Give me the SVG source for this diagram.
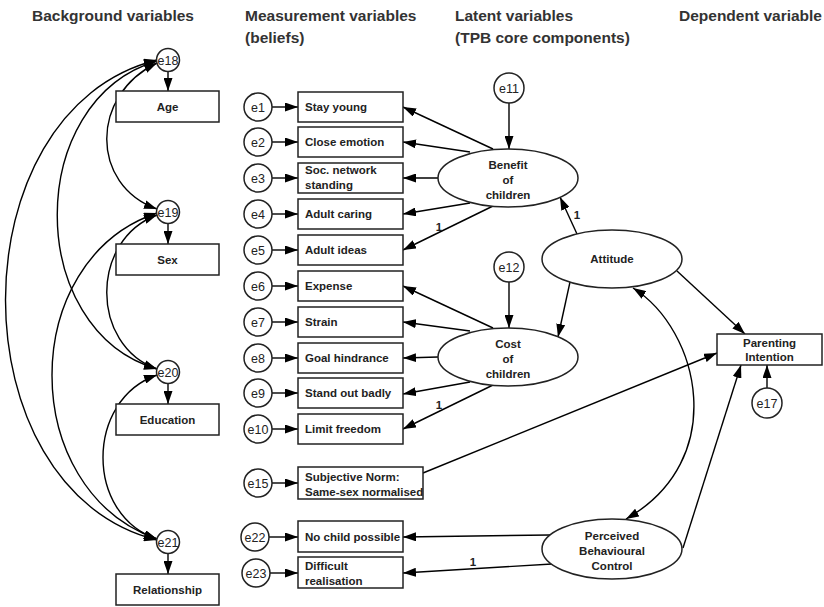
<svg xmlns="http://www.w3.org/2000/svg" width="824" height="607" viewBox="0 0 824 607">
<defs>
<marker id="ah" markerUnits="userSpaceOnUse" markerWidth="14" markerHeight="9" refX="13" refY="4.5" orient="auto-start-reverse">
<path d="M0,0 L13,4.5 L0,9 z" fill="#000"/>
</marker>
<style>
.hdr{font-family:"Liberation Sans",Arial,sans-serif;font-weight:bold;font-size:15.5px;fill:#333}
.lbl{font-family:"Liberation Sans",Arial,sans-serif;font-weight:bold;font-size:11.5px;fill:#222}
.lc{text-anchor:middle}
.err{font-family:"Liberation Sans",Arial,sans-serif;font-size:12.5px;fill:#222;text-anchor:middle}
.one{font-family:"Liberation Sans",Arial,sans-serif;font-weight:bold;font-size:11.5px;fill:#222;text-anchor:middle}
rect,circle,ellipse{fill:#fff;stroke:#222;stroke-width:1.5}
.c line,.c path{stroke:#000;stroke-width:1.4;fill:none;marker-end:url(#ah)}
.c .dbl{marker-start:url(#ah)}
</style>
</defs>
<rect x="0" y="0" width="824" height="607" style="fill:#fff;stroke:none"/>

<g id="headers">
<text class="hdr" x="32" y="21">Background variables</text>
<text class="hdr" x="245" y="21">Measurement variables</text>
<text class="hdr" x="245" y="43">(beliefs)</text>
<text class="hdr" x="455" y="21">Latent variables</text>
<text class="hdr" x="455" y="43">(TPB core components)</text>
<text class="hdr" x="822" y="21" text-anchor="end">Dependent variable</text>
</g>

<g id="connectors" class="c">
<path class="dbl" d="M157,63 C90,95 90,185 157,209"/>
<path class="dbl" d="M157,61 C24,100 24,330 157,369"/>
<path class="dbl" d="M157,60 C-45,110 -45,490 157,540"/>
<path class="dbl" d="M157,215 C90,240 90,345 157,369"/>
<path class="dbl" d="M157,213 C17,260 17,490 157,539"/>
<path class="dbl" d="M157,375 C85,400 85,515 157,539"/>
<line x1="168" y1="71" x2="168" y2="91"/>
<line x1="168" y1="223" x2="168" y2="244"/>
<line x1="168" y1="383" x2="168" y2="404"/>
<line x1="168" y1="553" x2="168" y2="574"/>
<line x1="272" y1="107" x2="298" y2="107"/>
<line x1="272" y1="142" x2="298" y2="142"/>
<line x1="272" y1="178" x2="298" y2="178"/>
<line x1="272" y1="214" x2="298" y2="214"/>
<line x1="272" y1="250" x2="298" y2="250"/>
<line x1="272" y1="286" x2="298" y2="286"/>
<line x1="272" y1="322" x2="298" y2="322"/>
<line x1="272" y1="358" x2="298" y2="358"/>
<line x1="272" y1="393" x2="298" y2="393"/>
<line x1="272" y1="429" x2="298" y2="429"/>
<line x1="272" y1="483" x2="298" y2="483"/>
<line x1="269" y1="537" x2="298" y2="537"/>
<line x1="270" y1="573" x2="298" y2="573"/>
<line x1="509" y1="103" x2="509" y2="149"/>
<line x1="493" y1="149" x2="403" y2="107"/>
<line x1="470" y1="152" x2="403" y2="142"/>
<line x1="438" y1="178" x2="403" y2="178"/>
<line x1="470" y1="203" x2="403" y2="214"/>
<line x1="493" y1="206" x2="403" y2="250"/>
<line x1="509" y1="282" x2="509" y2="328"/>
<line x1="493" y1="328" x2="403" y2="286"/>
<line x1="470" y1="331" x2="403" y2="322"/>
<line x1="438" y1="357" x2="403" y2="358"/>
<line x1="470" y1="382" x2="403" y2="394"/>
<line x1="493" y1="385" x2="403" y2="429"/>
<line x1="577" y1="234" x2="560" y2="197"/>
<line x1="570" y1="282" x2="558" y2="337"/>
<line x1="677" y1="271" x2="745" y2="334"/>
<line x1="423" y1="473" x2="717" y2="353"/>
<line x1="550" y1="535" x2="403" y2="537"/>
<line x1="552" y1="564" x2="403" y2="573"/>
<line x1="683" y1="548" x2="741" y2="365"/>
<path class="dbl" d="M633,288 C700,330 730,460 626,519"/>
<line x1="767" y1="388" x2="767" y2="365"/>
</g>

<g id="one-labels">
<text class="one" x="439" y="231">1</text>
<text class="one" x="439" y="409">1</text>
<text class="one" x="577" y="219">1</text>
<text class="one" x="473" y="566">1</text>
</g>

<g id="age"><rect x="116" y="91" width="103" height="31"/><text class="lbl lc" x="167.5" y="111">Age</text></g>
<g id="sex"><rect x="116" y="244" width="103" height="31"/><text class="lbl lc" x="167.5" y="264">Sex</text></g>
<g id="education"><rect x="116" y="404" width="103" height="31"/><text class="lbl lc" x="167.5" y="424">Education</text></g>
<g id="relationship"><rect x="116" y="574" width="103" height="31"/><text class="lbl lc" x="167.5" y="594">Relationship</text></g>

<g id="e18"><circle cx="168" cy="60" r="11.5"/><text class="err" x="168" y="64.5">e18</text></g>
<g id="e19"><circle cx="168" cy="212" r="11.5"/><text class="err" x="168" y="216.5">e19</text></g>
<g id="e20"><circle cx="168" cy="372" r="11.5"/><text class="err" x="168" y="376.5">e20</text></g>
<g id="e21"><circle cx="168" cy="542" r="11.5"/><text class="err" x="168" y="546.5">e21</text></g>

<g id="e1"><circle cx="258" cy="107" r="14"/><text class="err" x="258" y="111.5">e1</text></g>
<g id="e2"><circle cx="258" cy="142" r="14"/><text class="err" x="258" y="146.5">e2</text></g>
<g id="e3"><circle cx="258" cy="178" r="14"/><text class="err" x="258" y="182.5">e3</text></g>
<g id="e4"><circle cx="258" cy="214" r="14"/><text class="err" x="258" y="218.5">e4</text></g>
<g id="e5"><circle cx="258" cy="250" r="14"/><text class="err" x="258" y="254.5">e5</text></g>
<g id="e6"><circle cx="258" cy="286" r="14"/><text class="err" x="258" y="290.5">e6</text></g>
<g id="e7"><circle cx="258" cy="322" r="14"/><text class="err" x="258" y="326.5">e7</text></g>
<g id="e8"><circle cx="258" cy="358" r="14"/><text class="err" x="258" y="362.5">e8</text></g>
<g id="e9"><circle cx="258" cy="393" r="14"/><text class="err" x="258" y="397.5">e9</text></g>
<g id="e10"><circle cx="258" cy="429" r="14"/><text class="err" x="258" y="433.5">e10</text></g>
<g id="e15"><circle cx="258" cy="483" r="14"/><text class="err" x="258" y="487.5">e15</text></g>
<g id="e22"><circle cx="255" cy="537" r="14"/><text class="err" x="255" y="541.5">e22</text></g>
<g id="e23"><circle cx="256" cy="573" r="14"/><text class="err" x="256" y="577.5">e23</text></g>

<g id="stay-young"><rect x="298" y="92" width="105" height="30"/><text class="lbl" x="305" y="111">Stay young</text></g>
<g id="close-emotion"><rect x="298" y="127" width="105" height="30"/><text class="lbl" x="305" y="146">Close emotion</text></g>
<g id="soc-network"><rect x="298" y="163" width="105" height="30"/><text class="lbl" x="305" y="174">Soc. network</text><text class="lbl" x="305" y="189">standing</text></g>
<g id="adult-caring"><rect x="298" y="199" width="105" height="30"/><text class="lbl" x="305" y="218">Adult caring</text></g>
<g id="adult-ideas"><rect x="298" y="235" width="105" height="30"/><text class="lbl" x="305" y="254">Adult ideas</text></g>
<g id="expense"><rect x="298" y="271" width="105" height="30"/><text class="lbl" x="305" y="290">Expense</text></g>
<g id="strain"><rect x="298" y="307" width="105" height="30"/><text class="lbl" x="305" y="326">Strain</text></g>
<g id="goal-hindrance"><rect x="298" y="343" width="105" height="30"/><text class="lbl" x="305" y="362">Goal hindrance</text></g>
<g id="stand-out-badly"><rect x="298" y="378" width="105" height="30"/><text class="lbl" x="305" y="397">Stand out badly</text></g>
<g id="limit-freedom"><rect x="298" y="414" width="105" height="30"/><text class="lbl" x="305" y="433">Limit freedom</text></g>
<g id="subjective-norm"><rect x="298" y="467" width="125" height="32"/><text class="lbl" x="305" y="481">Subjective Norm:</text><text class="lbl" x="305" y="496">Same-sex normalised</text></g>
<g id="no-child"><rect x="298" y="521" width="105" height="31"/><text class="lbl" x="305" y="541">No child possible</text></g>
<g id="difficult"><rect x="298" y="557" width="105" height="31"/><text class="lbl" x="305" y="570">Difficult</text><text class="lbl" x="305" y="585">realisation</text></g>

<g id="e11"><circle cx="509" cy="88" r="15"/><text class="err" x="509" y="92.5">e11</text></g>
<g id="e12"><circle cx="509" cy="267" r="15"/><text class="err" x="509" y="271.5">e12</text></g>
<g id="e17"><circle cx="767" cy="403" r="15"/><text class="err" x="767" y="407.5">e17</text></g>

<g id="benefit"><ellipse cx="508" cy="178" rx="70" ry="29"/><text class="lbl lc" x="508" y="169">Benefit</text><text class="lbl lc" x="508" y="184">of</text><text class="lbl lc" x="508" y="199">children</text></g>
<g id="cost"><ellipse cx="508" cy="357" rx="70" ry="29"/><text class="lbl lc" x="508" y="348">Cost</text><text class="lbl lc" x="508" y="363">of</text><text class="lbl lc" x="508" y="378">children</text></g>
<g id="attitude"><ellipse cx="612" cy="259" rx="70" ry="29"/><text class="lbl lc" x="612" y="263">Attitude</text></g>
<g id="pbc"><ellipse cx="612" cy="549" rx="70" ry="30"/><text class="lbl lc" x="612" y="540">Perceived</text><text class="lbl lc" x="612" y="555">Behavioural</text><text class="lbl lc" x="612" y="570">Control</text></g>
<g id="parenting-intention"><rect x="717" y="334" width="105" height="31"/><text class="lbl lc" x="769.5" y="347">Parenting</text><text class="lbl lc" x="769.5" y="361">Intention</text></g>
</svg>
